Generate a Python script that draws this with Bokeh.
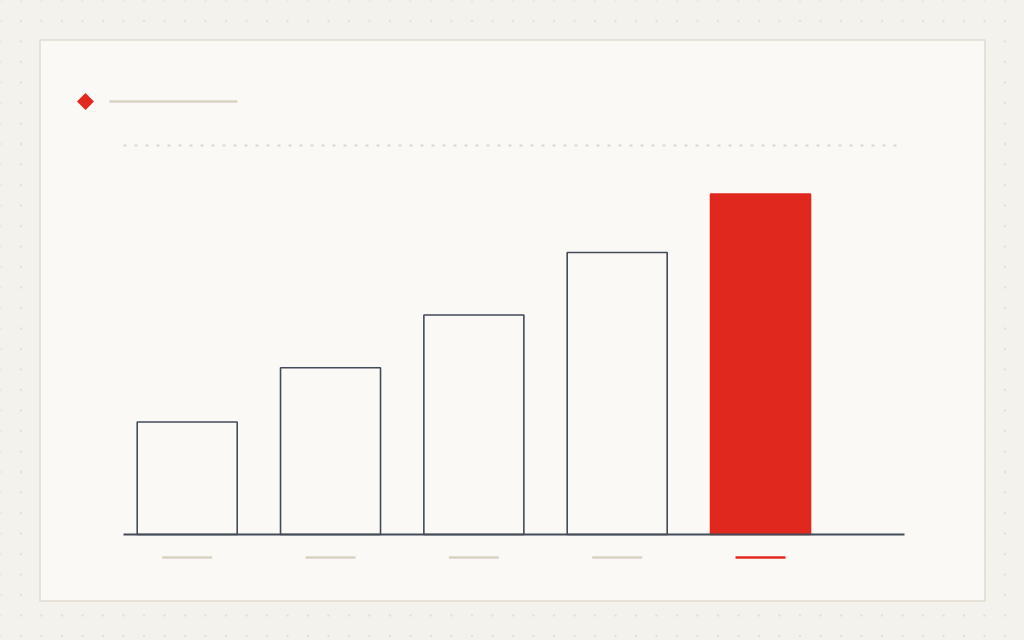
import numpy as np
from bokeh.plotting import figure
from bokeh.models import ColumnDataSource
from bokeh.embed import file_html
from bokeh.resources import INLINE

# ---- data ----
categories = ["A", "B", "C", "D", "E"]
values = [40.5, 60, 79, 101.5, 122.5]
y_max = 140
highlight = "E"

# ---- style ----
BG = "#f4f2ec"
DOT = "#e5e1d6"
CARD = "#faf9f5"
CARD_LINE = "#e1dcd0"
INK = "#434b59"
RED = "#e1281e"
MUTED = "#d8d1c3"
GRID = "#dcd8cd"

W, H = 1024, 640
OFF = 0  # page offset of the canvas

# layout (page pixels)
plot_left, plot_right = 123, 904
base_px, top_px = 534, 145
first_center, step = 186.7, 143.33
bar_px = 100

k = (base_px - top_px) / y_max
x_start = (OFF - first_center) / step
x_end = x_start + W / step
y_end = (base_px - OFF) / k
y_start = y_end - H / k


def px2x(px):
    return x_start + (px - OFF) / step


def px2y(py):
    return y_end - (py - OFF) / k


p = figure(width=W, height=H, x_range=(x_start, x_end), y_range=(y_start, y_end),
           output_backend="svg", toolbar_location=None,
           x_axis_location=None, y_axis_location=None, min_border=0)
p.grid.visible = False
p.outline_line_color = None
p.background_fill_color = BG
p.border_fill_color = BG

# dotted page background
gx, gy = np.meshgrid(np.arange(0, 1030, 20.5), np.arange(0, 650, 20.5))
p.scatter(px2x(gx.ravel()), px2y(gy.ravel()), size=2.4, color=DOT, line_color=None)

# card
p.quad(left=[px2x(39.5)], right=[px2x(984.5)], top=[px2y(39.5)], bottom=[px2y(600.5)],
       fill_color=CARD, line_color=CARD_LINE, line_width=1.6)

# header placeholder
p.scatter([px2x(85)], [px2y(101)], marker="square", angle=np.pi / 4, size=12,
          fill_color=RED, line_color=None)
p.segment(x0=[px2x(109)], x1=[px2x(237)], y0=[px2y(101)], y1=[px2y(101)],
          line_color=MUTED, line_width=2.6, line_cap="butt")

# top gridline
p.segment(x0=[px2x(plot_left)], x1=[px2x(plot_right)], y0=[y_max], y1=[y_max],
          line_color=GRID, line_width=2, line_dash="3 8")

# bars
xs = list(range(len(categories)))
fills = [RED if c == highlight else CARD for c in categories]
lines = [RED if c == highlight else INK for c in categories]
src = ColumnDataSource(dict(x=xs, top=values, fill=fills, line=lines, cat=categories))
p.vbar(x="x", top="top", bottom=0, width=bar_px / step, source=src,
       fill_color="fill", line_color="line", line_width=1.6)

# baseline axis
p.segment(x0=[px2x(plot_left)], x1=[px2x(plot_right)], y0=[0], y1=[0],
          line_color=INK, line_width=2)

# category label placeholders
tick_cols = [RED if c == highlight else MUTED for c in categories]
half = 25 / step
tsrc = ColumnDataSource(dict(x0=[x - half for x in xs], x1=[x + half for x in xs],
                             y=[px2y(557)] * len(xs), c=tick_cols))
p.segment(x0="x0", x1="x1", y0="y", y1="y", source=tsrc, line_color="c",
          line_width=2.6, line_cap="butt")

html = file_html(p, INLINE)
html = html.replace("</head>", "<style>html,body{background:%s;}</style></head>" % BG, 1)
open("out.html", "w").write(html)
